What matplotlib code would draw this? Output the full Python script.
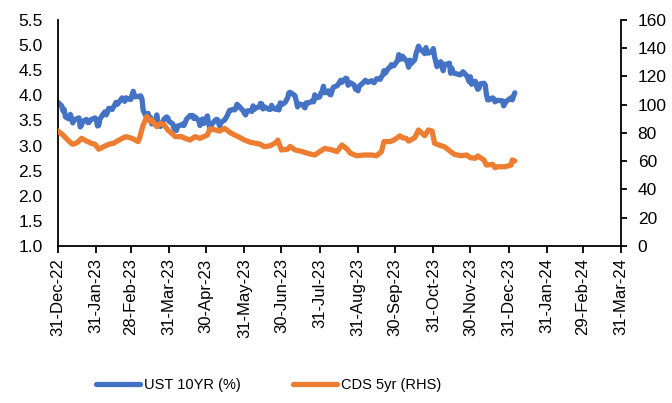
"""
UST 10YR yield vs CDS 5yr spread, daily, 2023.
"""
import matplotlib
matplotlib.use('Agg')
import matplotlib.pyplot as plt
import matplotlib.dates as mdates
import pandas as pd

plt.rcParams['font.family'] = ['Liberation Sans', 'DejaVu Sans']

# UST 10YR (%) - business days from 30-Dec-22 to 05-Jan-24
us_holidays = ['2023-01-02', '2023-01-16', '2023-02-20', '2023-05-29', '2023-06-19',
               '2023-07-04', '2023-09-04', '2023-10-09', '2023-11-23', '2023-12-25',
               '2024-01-01']
ust_10yr = [
    3.88,
    # Jan
    3.79, 3.69, 3.72, 3.57, 3.53, 3.62, 3.54, 3.45, 3.51, 3.55, 3.37, 3.40, 3.48, 3.52,
    3.46, 3.46, 3.50, 3.52, 3.55, 3.52,
    # Feb
    3.39, 3.40, 3.53, 3.64, 3.67, 3.61, 3.66, 3.74, 3.72, 3.77, 3.81, 3.86, 3.82, 3.95,
    3.92, 3.88, 3.95, 3.92, 3.92,
    # Mar
    4.01, 4.08, 3.97, 3.98, 3.97, 3.99, 3.93, 3.70, 3.55, 3.64, 3.51, 3.56, 3.43, 3.48,
    3.61, 3.44, 3.42, 3.38, 3.53, 3.55, 3.57, 3.55, 3.48,
    # Apr
    3.43, 3.34, 3.31, 3.30, 3.39, 3.41, 3.43, 3.40, 3.45, 3.52, 3.60, 3.59, 3.60, 3.54,
    3.57, 3.50, 3.40, 3.45, 3.53, 3.44,
    # May
    3.59, 3.44, 3.35, 3.39, 3.44, 3.52, 3.52, 3.45, 3.39, 3.46, 3.51, 3.55, 3.59, 3.65,
    3.70, 3.72, 3.71, 3.74, 3.82, 3.80, 3.69, 3.64,
    # Jun
    3.61, 3.69, 3.69, 3.68, 3.79, 3.72, 3.75, 3.77, 3.84, 3.83, 3.73, 3.77, 3.72, 3.72,
    3.80, 3.74, 3.72, 3.77, 3.71, 3.85, 3.81,
    # Jul
    3.86, 3.95, 4.05, 4.06, 4.01, 3.99, 3.89, 3.77, 3.83, 3.81, 3.78, 3.75, 3.85, 3.84,
    3.87, 3.89, 3.87, 4.01, 3.95, 3.97,
    # Aug
    4.05, 4.08, 4.18, 4.05, 4.09, 4.02, 4.01, 4.09, 4.16, 4.19, 4.22, 4.26, 4.30, 4.26,
    4.34, 4.33, 4.20, 4.24, 4.25, 4.20, 4.12, 4.12, 4.09,
    # Sep
    4.18, 4.27, 4.30, 4.27, 4.26, 4.29, 4.27, 4.25, 4.29, 4.33, 4.32, 4.37, 4.40, 4.49,
    4.44, 4.55, 4.56, 4.61, 4.59, 4.59,
    # Oct
    4.69, 4.81, 4.73, 4.72, 4.78, 4.66, 4.56, 4.70, 4.63, 4.71, 4.83, 4.90, 4.98, 4.93,
    4.86, 4.83, 4.95, 4.85, 4.84, 4.88, 4.93,
    # Nov
    4.77, 4.67, 4.57, 4.67, 4.58, 4.49, 4.62, 4.61, 4.64, 4.44, 4.54, 4.45, 4.44, 4.42,
    4.41, 4.41, 4.47, 4.39, 4.34, 4.27, 4.37,
    # Dec
    4.22, 4.28, 4.18, 4.12, 4.14, 4.23, 4.24, 4.21, 4.02, 3.91, 3.91, 3.95, 3.93, 3.87,
    3.89, 3.90, 3.89, 3.79, 3.84, 3.88,
    # Jan 24
    3.95, 3.91, 3.99, 4.05,
]

# CDS 5yr (bps, RHS)
cds_dates = [
    '2022-12-30', '2023-01-04', '2023-01-09', '2023-01-12', '2023-01-16', '2023-01-19',
    '2023-01-23', '2023-01-27', '2023-01-30', '2023-02-02', '2023-02-06', '2023-02-10',
    '2023-02-14', '2023-02-17', '2023-02-21', '2023-02-24', '2023-03-01', '2023-03-06',
    '2023-03-07', '2023-03-10', '2023-03-13', '2023-03-16', '2023-03-17', '2023-03-21',
    '2023-03-24', '2023-03-27', '2023-03-30', '2023-04-03', '2023-04-05', '2023-04-10',
    '2023-04-13', '2023-04-17', '2023-04-21', '2023-04-25', '2023-04-28', '2023-05-01',
    '2023-05-03', '2023-05-08', '2023-05-11', '2023-05-15', '2023-05-19', '2023-05-23',
    '2023-05-26', '2023-05-31', '2023-06-05', '2023-06-09', '2023-06-13', '2023-06-16',
    '2023-06-21', '2023-06-26', '2023-06-27', '2023-06-30', '2023-07-05', '2023-07-07',
    '2023-07-11', '2023-07-17', '2023-07-21', '2023-07-27', '2023-07-31', '2023-08-04',
    '2023-08-10', '2023-08-14', '2023-08-18', '2023-08-22', '2023-08-25', '2023-08-30',
    '2023-09-05', '2023-09-11', '2023-09-15', '2023-09-19', '2023-09-21', '2023-09-26',
    '2023-09-29', '2023-10-04', '2023-10-06', '2023-10-09', '2023-10-11', '2023-10-16',
    '2023-10-19', '2023-10-24', '2023-10-27', '2023-10-30', '2023-11-01', '2023-11-06',
    '2023-11-09', '2023-11-14', '2023-11-17', '2023-11-22', '2023-11-27', '2023-11-30',
    '2023-12-04', '2023-12-06', '2023-12-11', '2023-12-13', '2023-12-18', '2023-12-20',
    '2023-12-22', '2023-12-28', '2024-01-02', '2024-01-03', '2024-01-05',
]
cds_5yr = [
    82.0, 78.6, 74.0, 72.0, 73.4, 76.2,
    74.3, 72.7, 72.0, 68.5, 70.3, 72.0,
    72.7, 74.3, 76.2, 77.4, 76.2, 73.9,
    76.2, 85.7, 91.6, 88.0, 89.2, 84.5,
    86.9, 85.7, 82.1, 79.1, 77.4, 77.4,
    76.2, 75.0, 77.4, 76.2, 77.4, 78.6,
    82.8, 82.1, 81.4, 83.3, 80.5, 78.6,
    77.4, 75.0, 73.4, 72.7, 72.0, 70.3,
    71.0, 73.4, 75.0, 68.0, 68.5, 70.5,
    68.0, 66.8, 65.6, 64.4, 66.8, 69.1,
    68.0, 66.8, 71.5, 68.7, 65.6, 63.9,
    64.4, 64.4, 63.9, 66.8, 73.9, 73.9,
    75.0, 78.0, 76.7, 76.2, 74.3, 76.7,
    82.1, 78.1, 82.1, 81.4, 72.7, 71.0,
    70.3, 66.8, 64.9, 63.9, 64.4, 62.5,
    62.1, 63.7, 60.9, 57.3, 57.8, 55.4,
    56.1, 56.1, 57.3, 60.9, 60.2,
]

ust_dates = pd.bdate_range('2022-12-30', '2024-01-05', freq='C', holidays=us_holidays)
ust = pd.Series(ust_10yr, index=ust_dates)
cds = pd.Series(cds_5yr, index=pd.to_datetime(cds_dates))

month_ticks = pd.date_range('2022-12-31', '2024-03-31', freq='ME')

fig = plt.figure(figsize=(6.72, 4.03), dpi=100)
ax = fig.add_axes([0.0863, 0.3896, 0.8378, 0.5608])
ax2 = ax.twinx()

l1, = ax.plot(ust.index, ust.values, color='#4472C4', lw=3.8, solid_capstyle='round',
              label='UST 10YR (%)')
l2, = ax2.plot(cds.index, cds.values, color='#ED7D31', lw=3.8, solid_capstyle='round',
               label='CDS 5yr (RHS)')

ax.set_xlim(month_ticks[0], month_ticks[-1])
ax.set_ylim(1.0, 5.5)
ax.set_yticks([1.0 + 0.5 * i for i in range(10)])
ax.yaxis.set_major_formatter(matplotlib.ticker.FormatStrFormatter('%.1f'))
ax2.set_ylim(0, 160)
ax2.set_yticks(range(0, 161, 20))

ax.set_xticks(month_ticks)
ax.xaxis.set_major_formatter(mdates.DateFormatter('%d-%b-%y'))
for lbl in ax.get_xticklabels():
    lbl.set_rotation(90)

for a in (ax, ax2):
    a.spines['top'].set_visible(False)
    for s in ('left', 'right', 'bottom'):
        a.spines[s].set_color('black')
        a.spines[s].set_linewidth(1.3)
ax.spines['right'].set_visible(False)
ax2.spines['left'].set_visible(False)
ax2.spines['bottom'].set_visible(False)

ax.tick_params(axis='y', length=0, labelsize=12.5, pad=11)
ax.tick_params(axis='x', length=5, width=1.3, direction='out', labelsize=12, pad=4)
ax2.tick_params(axis='y', length=4, width=1.3, direction='out', labelsize=12.5, pad=8)

fig.legend(handles=[l1, l2], loc='center', bbox_to_anchor=(0.40, 0.045), ncol=2,
           frameon=False, fontsize=10.5, handlelength=3.0, handletextpad=0.3,
           columnspacing=3.6)

plt.savefig('out.png', dpi=100)
plt.close()
